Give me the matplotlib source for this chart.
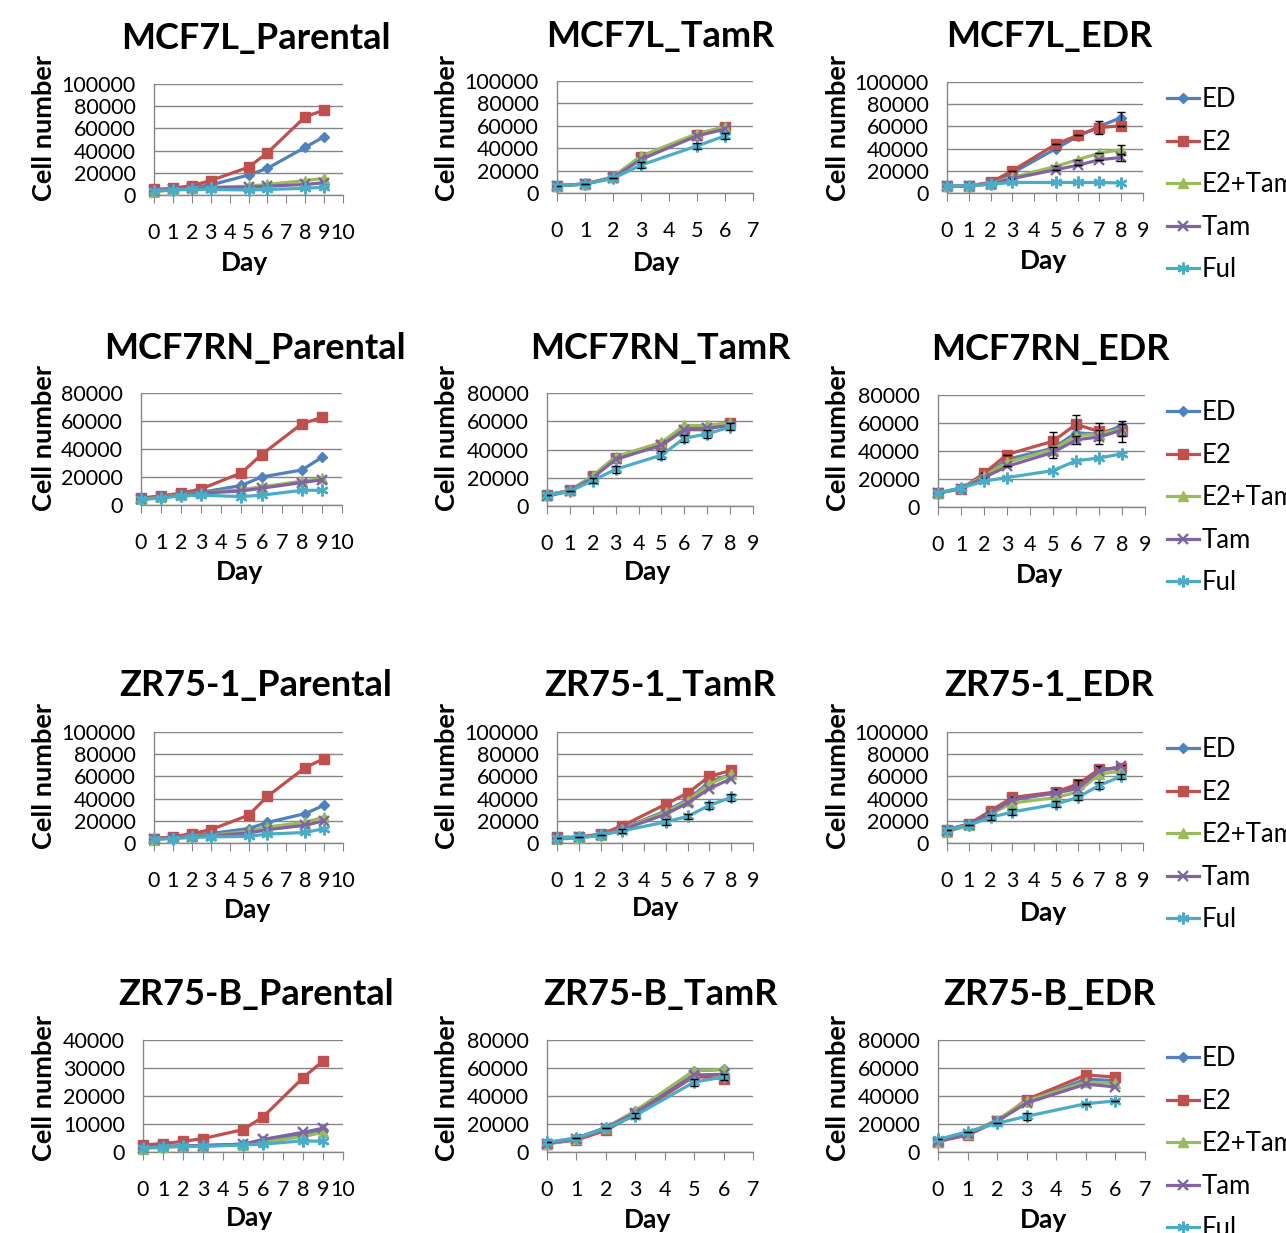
import matplotlib
matplotlib.use("Agg")
import matplotlib.pyplot as plt

plt.rcParams['font.family'] = ['Lato', 'DejaVu Sans']

series_names = ["ED", "E2", "E2+Tam", "Tam", "Ful"]
colors = ["#4F81BD", "#C0504D", "#9BBB59", "#8064A2", "#4BACC6"]
markers = ["D", "s", "^", "x", (6, 2, 0)]
msizes = [5.5, 7.5, 7.5, 7.5, 8.5]

days_parental = [0, 1, 2, 3, 5, 6, 8, 9]
days_6 = [0, 1, 2, 3, 5, 6]
days_8 = [0, 1, 2, 3, 5, 6, 7, 8]

# ---- Row 1: MCF7L ----
mcf7l_parental = {
    "ED":     [4000, 5000, 7000, 9000, 18000, 24000, 43000, 52500],
    "E2":     [5000, 6000, 8500, 13000, 25000, 38000, 70500, 76500],
    "E2+Tam": [3000, 4500, 6000, 7000, 8000, 9500, 13000, 15000],
    "Tam":    [4000, 5000, 6000, 6500, 7000, 8000, 9500, 11000],
    "Ful":    [4000, 4500, 5000, 5000, 4500, 5000, 6000, 7000],
}
mcf7l_tamr = {
    "ED":     [6500, 8000, 14000, 32000, 52000, 59000],
    "E2":     [6500, 8000, 14000, 32000, 52000, 59000],
    "E2+Tam": [6500, 8000, 14500, 33000, 53000, 59000],
    "Tam":    [6500, 8000, 13500, 30000, 51000, 57000],
    "Ful":    [6500, 8000, 13000, 25000, 42000, 51000],
}
mcf7l_tamr_err = {"Ful": [0, 0, 0, 2500, 2500, 2500]}
mcf7l_edr = {
    "ED":     [6000, 6500, 9000, 18000, 40000, 51000, 60000, 68000],
    "E2":     [6000, 6500, 9500, 20000, 44000, 52000, 59000, 60500],
    "E2+Tam": [6000, 6500, 8500, 14000, 24000, 30000, 36000, 39000],
    "Tam":    [6000, 6500, 8000, 13000, 21000, 25000, 30000, 32000],
    "Ful":    [6000, 6500, 8000, 9500, 9500, 9500, 9500, 9000],
}
mcf7l_edr_err = {"ED": [0, 0, 0, 0, 0, 0, 0, 5000], "E2": [0, 0, 0, 0, 0, 0, 5500, 0],
                 "E2+Tam": [0, 0, 0, 0, 0, 0, 0, 4500], "Tam": [0, 0, 0, 0, 0, 0, 0, 3500]}

# ---- Row 2: MCF7RN ----
mcf7rn_parental = {
    "ED":     [4000, 5500, 7500, 9000, 14000, 20000, 25000, 34000],
    "E2":     [5000, 6500, 8500, 11500, 23000, 36000, 58000, 62500],
    "E2+Tam": [4000, 5500, 7500, 8500, 11000, 13000, 17000, 19000],
    "Tam":    [4000, 5500, 7000, 8500, 10000, 12000, 16000, 18000],
    "Ful":    [4000, 5000, 6500, 7000, 6000, 7000, 10500, 10500],
}
mcf7rn_tamr = {
    "ED":     [7500, 11000, 21000, 34000, 44000, 56000, 56000, 59000],
    "E2":     [8000, 11000, 21000, 34000, 43000, 54000, 54000, 59000],
    "E2+Tam": [7500, 11000, 21500, 35000, 45000, 57000, 57000, 59000],
    "Tam":    [7000, 10500, 20000, 33000, 43000, 54000, 55000, 57000],
    "Ful":    [7500, 10500, 18000, 26000, 36000, 48000, 51000, 56000],
}
mcf7rn_tamr_err = {"Ful": [0, 0, 2000, 2500, 3000, 2500, 3000, 2500]}
mcf7rn_edr = {
    "ED":     [10000, 13500, 22000, 34000, 42000, 53000, 52000, 58000],
    "E2":     [10000, 13000, 24000, 37500, 47000, 59000, 54000, 54000],
    "E2+Tam": [10000, 13500, 22000, 32000, 41000, 51000, 52000, 56000],
    "Tam":    [10000, 13000, 21000, 29000, 39000, 48000, 50000, 55000],
    "Ful":    [10000, 13500, 18500, 21000, 26000, 33000, 35000, 38000],
}
mcf7rn_edr_err = {"E2": [0, 0, 0, 0, 6500, 6500, 6000, 7500], "Tam": [0, 0, 0, 0, 4000, 3000, 5000, 4000]}

# ---- Row 3: ZR75-1 ----
zr751_parental = {
    "ED":     [4000, 5000, 7000, 8500, 13000, 18500, 26500, 34000],
    "E2":     [4000, 5500, 8500, 12000, 25000, 42000, 68000, 76000],
    "E2+Tam": [3000, 4500, 6000, 7000, 10500, 14500, 18500, 23500],
    "Tam":    [3500, 4500, 5500, 6500, 9000, 12000, 16000, 20000],
    "Ful":    [3500, 4000, 5000, 5500, 6000, 8000, 9500, 13000],
}
zr751_tamr = {
    "ED":     [4000, 5000, 7500, 13000, 29000, 39000, 55000, 62000],
    "E2":     [5000, 5500, 8000, 15500, 35000, 45000, 60000, 65500],
    "E2+Tam": [3500, 4500, 7000, 12500, 28000, 38000, 53000, 62000],
    "Tam":    [4000, 5000, 7000, 12000, 26000, 36000, 49000, 58000],
    "Ful":    [4500, 5000, 7000, 11000, 19000, 24000, 34000, 41000],
}
zr751_tamr_err = {"Ful": [0, 0, 0, 2000, 2500, 2500, 3000, 3000]}
zr751_edr = {
    "ED":     [12000, 17000, 27000, 40000, 45000, 52000, 66000, 68000],
    "E2":     [12000, 17000, 29000, 41000, 46000, 53000, 66500, 67500],
    "E2+Tam": [10000, 16000, 26000, 36000, 41000, 46000, 62000, 65000],
    "Tam":    [11000, 16500, 27000, 39000, 45000, 49000, 65000, 69000],
    "Ful":    [12000, 16000, 23000, 28000, 35000, 41000, 52000, 60000],
}
zr751_edr_err = {"E2": [0, 0, 0, 0, 3000, 3500, 3000, 3000], "Ful": [0, 0, 2000, 2500, 3000, 2500, 3000, 2500]}

# ---- Row 4: ZR75-B ----
zr75b_parental = {
    "ED":     [1500, 2000, 2200, 2300, 2800, 4000, 6000, 7800],
    "E2":     [2500, 3000, 3800, 4800, 8000, 12500, 26500, 32500],
    "E2+Tam": [1200, 1700, 2000, 2200, 2600, 3500, 5500, 7000],
    "Tam":    [1500, 2000, 2200, 2300, 2800, 4500, 7000, 8500],
    "Ful":    [1500, 1800, 2000, 2000, 2500, 2800, 4000, 3800],
}
zr75b_tamr = {
    "ED":     [6500, 10000, 17500, 29000, 58000, 59000],
    "E2":     [6000, 8500, 15500, 27000, 54000, 52500],
    "E2+Tam": [5500, 9500, 17000, 29500, 58000, 59000],
    "Tam":    [6000, 9500, 17000, 28000, 55000, 55500],
    "Ful":    [7000, 10000, 17000, 26000, 50000, 53500],
}
zr75b_tamr_err = {"Ful": [0, 0, 0, 2000, 2500, 2000]}
zr75b_edr = {
    "ED":     [7500, 13000, 22000, 36000, 52000, 51000],
    "E2":     [7500, 12000, 22000, 37500, 55000, 53500],
    "E2+Tam": [7500, 13000, 23000, 36500, 50000, 49000],
    "Tam":    [7500, 13000, 22000, 35000, 48500, 46500],
    "Ful":    [9000, 14500, 20500, 25500, 34500, 36500],
}
zr75b_edr_err = {"Ful": [0, 0, 0, 2500, 0, 0]}

titles = ["MCF7L_Parental", "MCF7L_TamR", "MCF7L_EDR",
          "MCF7RN_Parental", "MCF7RN_TamR", "MCF7RN_EDR",
          "ZR75-1_Parental", "ZR75-1_TamR", "ZR75-1_EDR",
          "ZR75-B_Parental", "ZR75-B_TamR", "ZR75-B_EDR"]

# (data, errors, days, xmax, ymax, ystep)
panels = [
    (mcf7l_parental, {}, days_parental, 10, 100000, 20000),
    (mcf7l_tamr, mcf7l_tamr_err, days_6, 7, 100000, 20000),
    (mcf7l_edr, mcf7l_edr_err, days_8, 9, 100000, 20000),
    (mcf7rn_parental, {}, days_parental, 10, 80000, 20000),
    (mcf7rn_tamr, mcf7rn_tamr_err, days_8, 9, 80000, 20000),
    (mcf7rn_edr, mcf7rn_edr_err, days_8, 9, 80000, 20000),
    (zr751_parental, {}, days_parental, 10, 100000, 20000),
    (zr751_tamr, zr751_tamr_err, days_8, 9, 100000, 20000),
    (zr751_edr, zr751_edr_err, days_8, 9, 100000, 20000),
    (zr75b_parental, {}, days_parental, 10, 40000, 10000),
    (zr75b_tamr, zr75b_tamr_err, days_6, 7, 80000, 20000),
    (zr75b_edr, zr75b_edr_err, days_6, 7, 80000, 20000),
]

# layout in pixels: (left, right, top, bottom) of plot area
boxes = [
    (154, 343, 84, 195), (557, 753, 81, 193), (947, 1143, 82, 193),
    (141, 342, 393, 505), (547, 753, 393, 506), (938, 1145, 395, 507),
    (154, 343, 732, 843), (557, 753, 732, 843), (947, 1143, 732, 843),
    (143, 343, 1040, 1152), (547, 753, 1040, 1152), (938, 1145, 1040, 1152),
]
title_pos = [(256, 38), (660, 36), (1049, 36),
             (255, 348), (660, 349), (1050, 350),
             (256, 686), (660, 686), (1049, 686),
             (256, 995), (660, 995), (1049, 995)]
day_pos = [(245, 263), (656, 263), (1044, 261),
           (240, 572), (648, 572), (1040, 575),
           (248, 910), (655, 908), (1044, 913),
           (250, 1218), (648, 1220), (1044, 1220)]
ylab_x = [44, 447, 838]
ylab_y = [128, 438, 776, 1088]
legend_top = [77, 390, 727, 1036]

W, H = 1286, 1233
fig = plt.figure(figsize=(W / 100, H / 100), dpi=100)
grey = "#868686"

for i, (data, errs, days, xmax, ymax, ystep) in enumerate(panels):
    l, r, t, b = boxes[i]
    ax = fig.add_axes([l / W, 1 - b / H, (r - l) / W, (b - t) / H])
    for j, name in enumerate(series_names):
        vals = data[name]
        mk = markers[j]
        ax.plot(days, vals, color=colors[j], lw=2.3, marker=mk, ms=msizes[j],
                mec=colors[j], mew=1.7 if j >= 3 else 1.0, label=name, zorder=3 + j,
                clip_on=False)
        if name in errs:
            ax.errorbar(days, vals, yerr=errs[name], fmt='none', ecolor='black',
                        elinewidth=1.0, capsize=3, capthick=1.0, zorder=3 + j)
    ax.set_xlim(0, xmax)
    ax.set_ylim(0, ymax)
    ax.set_xticks(range(0, xmax + 1))
    ax.set_yticks(range(0, ymax + 1, ystep))
    ax.grid(axis='y', color=grey, lw=1.0)
    ax.set_axisbelow(True)
    for s in ("top", "right"):
        ax.spines[s].set_visible(False)
    for s in ("left", "bottom"):
        ax.spines[s].set_color(grey)
        ax.spines[s].set_linewidth(1.0)
    ax.tick_params(axis='x', direction='out', length=6, color=grey, pad=14,
                   labelsize=15.5, labelcolor='black')
    ax.tick_params(axis='y', length=0, pad=13, labelsize=15.5, labelcolor='black')
    fig.text(title_pos[i][0] / W, 1 - title_pos[i][1] / H, titles[i],
             ha='center', va='center', fontsize=26, fontweight='bold')
    fig.text(day_pos[i][0] / W, 1 - day_pos[i][1] / H, "Day",
             ha='center', va='center', fontsize=19, fontweight='bold')
    fig.text(ylab_x[i % 3] / W, 1 - ylab_y[i // 3] / H, "Cell number",
             ha='center', va='center', rotation=90, fontsize=19.5, fontweight='bold')
    if i % 3 == 2:
        handles, labels = ax.get_legend_handles_labels()
        fig.legend(handles, labels, loc='upper left',
                   bbox_to_anchor=(1157 / W, 1 - legend_top[i // 3] / H),
                   frameon=False, fontsize=18.5, handlelength=1.25,
                   handletextpad=0.1, labelspacing=0.68, borderaxespad=0)

fig.savefig("out.png", dpi=100)
